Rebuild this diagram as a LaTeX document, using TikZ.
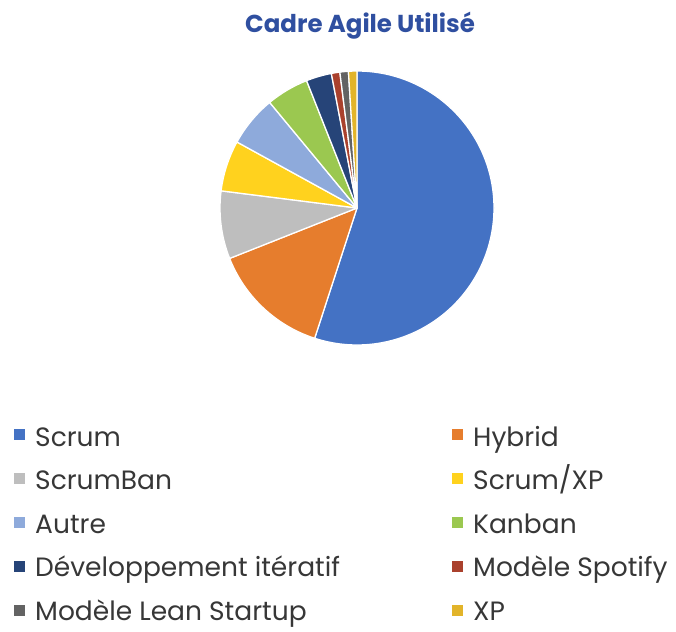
\documentclass[tikz,border=0pt]{standalone}
\usepackage{fontspec}
\setmainfont{Poppins}
\definecolor{titleblue}{RGB}{47,79,160}
\definecolor{legtext}{RGB}{55,55,55}
\definecolor{cScrum}{RGB}{68,114,196}
\definecolor{cHybrid}{RGB}{230,125,45}
\definecolor{cScrumBan}{RGB}{190,190,190}
\definecolor{cScrumXP}{RGB}{255,210,30}
\definecolor{cAutre}{RGB}{142,170,219}
\definecolor{cKanban}{RGB}{155,200,80}
\definecolor{cDev}{RGB}{38,68,120}
\definecolor{cSpotify}{RGB}{170,65,45}
\definecolor{cLean}{RGB}{99,99,99}
\definecolor{cXP}{RGB}{226,180,42}
\begin{document}
\begin{tikzpicture}[x=1pt,y=-1pt,
  slice/.style={draw=white,line width=1.3pt,line join=round},
  legsq/.style={minimum size=11pt,inner sep=0pt,outer sep=0pt},
  legtxt/.style={anchor=base west,inner sep=0pt,text=legtext,font=\fontsize{26.5}{30}\selectfont}]
\useasboundingbox[fill=white] (0,0) rectangle (676,631);
\node[font=\bfseries\fontsize{24.5}{28}\selectfont,text=titleblue,anchor=base] (title) at (360,33) {Cadre Agile Utilisé};
\coordinate (c) at (357,208);
\foreach \a/\b/\col in {-90/108/cScrum,108/158.4/cHybrid,158.4/187.2/cScrumBan,187.2/208.8/cScrumXP,208.8/230.4/cAutre,230.4/248.4/cKanban,248.4/259.2/cDev,259.2/262.8/cSpotify,262.8/266.4/cLean,266.4/270/cXP}
  \filldraw[slice,fill=\col] (c) -- ++(\a:137) arc[start angle=\a,end angle=\b,radius=137] -- cycle;
% legend
\foreach \i/\col/\txt/\nm in {0/cScrum/Scrum/a,1/cScrumBan/ScrumBan/b,2/cAutre/Autre/c,3/cDev/Développement itératif/d,4/cLean/Modèle Lean Startup/e}{
  \node[legsq,fill=\col] (sq\nm) at (19.5,434+44*\i) {};
  \node[legtxt] (lt\nm) at (35,446+43.5*\i) {\txt};
}
\foreach \i/\col/\nm in {0/cHybrid/a,1/cScrumXP/b,2/cKanban/c,3/cSpotify/d,4/cXP/e}{
  \node[legsq,fill=\col] (rsq\nm) at (457.5,434+44*\i) {};
}
\node[legtxt] (rta) at (473,446) {Hybrid};
\node[legtxt] (rtb) at (473,446+43.5) {Scrum/XP};
\node[legtxt] (rtc) at (473,446+87) {Kanban};
\node[legtxt] (rtd) at (473,446+130.5) {Modèle Spotify};
\node[legtxt] (rte) at (473,446+174) {XP};
\end{tikzpicture}
\end{document}
